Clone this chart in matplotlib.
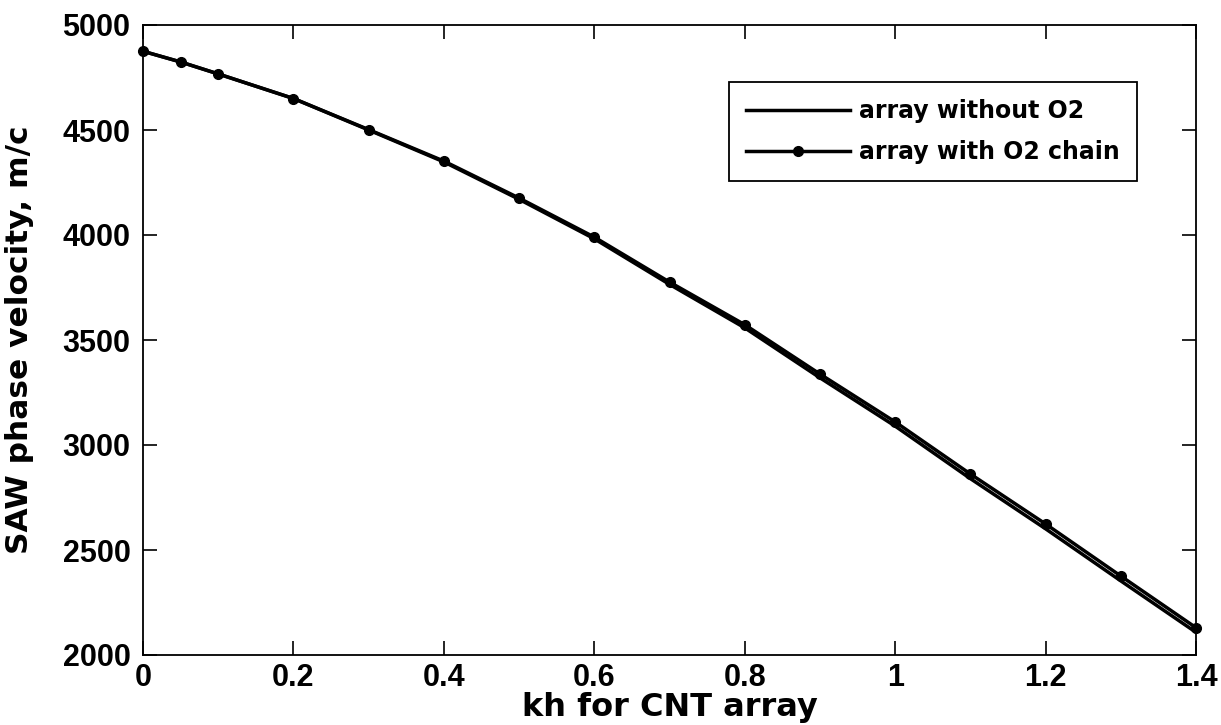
import matplotlib
matplotlib.use("Agg")
import matplotlib.pyplot as plt
from matplotlib.ticker import FuncFormatter

kh = [0, 0.05, 0.1, 0.2, 0.3, 0.4, 0.5, 0.6, 0.7, 0.8, 0.9, 1.0, 1.1, 1.2, 1.3, 1.4]
v_with_o2 = [4875, 4824, 4767, 4650, 4502, 4352, 4176, 3990, 3776, 3573, 3338, 3110, 2862, 2624, 2376, 2130]
v_without_o2 = [4875, 4824, 4767, 4650, 4500, 4348, 4170, 3982, 3765, 3558, 3320, 3090, 2840, 2601, 2353, 2108]
xticks = [0, 0.2, 0.4, 0.6, 0.8, 1.0, 1.2, 1.4]
yticks = [2000, 2500, 3000, 3500, 4000, 4500, 5000]
labels = ["array without O2", "array with O2 chain"]
xlabel = "kh for CNT array"
ylabel = "SAW phase velocity, m/c"

W, H = 1221, 725
fig = plt.figure(figsize=(W / 100, H / 100), dpi=100)
ax = fig.add_axes([143 / W, 1 - 655 / H, (1196 - 143) / W, (655 - 25) / H])

ax.plot(kh, v_without_o2, color="black", lw=2.5, label=labels[0], zorder=3)
ax.plot(kh, v_with_o2, color="black", lw=2.5, marker="o", ms=7, label=labels[1],
        zorder=4, clip_on=False)

ax.set_xlim(0, 1.4)
ax.set_ylim(2000, 5000)
ax.set_xticks(xticks)
ax.set_yticks(yticks)
ax.xaxis.set_major_formatter(FuncFormatter(lambda v, p: f"{v:g}"))
ax.yaxis.set_major_formatter(FuncFormatter(lambda v, p: f"{v:g}"))

for lab in ax.get_xticklabels() + ax.get_yticklabels():
    lab.set_fontfamily("Liberation Sans")
    lab.set_fontweight("bold")
    lab.set_fontsize(22)

ax.tick_params(direction="in", length=10, width=1.2, top=True, right=True, colors="black")
ax.tick_params(axis="x", pad=6)
ax.tick_params(axis="y", pad=9)
for s in ax.spines.values():
    s.set_linewidth(1.3)

ax.set_xlabel(xlabel, fontfamily="DejaVu Sans", fontweight="bold", fontsize=23)
ax.xaxis.set_label_coords(0.5, -0.097)
ax.xaxis.label.set_va("baseline")
ax.set_ylabel(ylabel, fontfamily="DejaVu Sans", fontweight="bold", fontsize=22.5)
ax.yaxis.set_label_coords(-0.117, 0.5)
ax.yaxis.label.set_va("center")

leg = ax.legend(loc="upper right", bbox_to_anchor=(0.944, 0.9095), borderaxespad=0,
                prop={"family": "DejaVu Sans", "weight": "bold", "size": 17},
                fancybox=False, frameon=True, edgecolor="black", framealpha=1,
                handlelength=4.4, handletextpad=0.4, labelspacing=0.72,
                borderpad=0.72, numpoints=1)
leg.get_frame().set_linewidth(1.3)

fig.savefig("out.png", dpi=100, facecolor="white")
